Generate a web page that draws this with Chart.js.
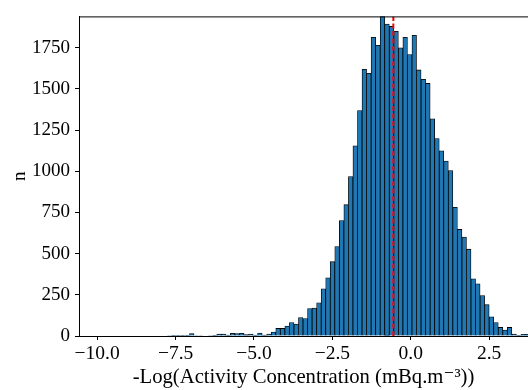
<!DOCTYPE html>
<html>
<head>
<meta charset="utf-8">
<script src="https://cdn.jsdelivr.net/npm/chart.js@4"></script>
<style>
  body { margin: 0; background: #fff; }
  #wrap { width: 528px; height: 390px; }
</style>
</head>
<body>
<div id="wrap"><canvas id="histChart" width="528" height="390"></canvas></div>
<script>
// histogram bins: 100 equal bins, left edge and width
const binStart = -10.386;
const binWidth = 0.1448;

// counts per bin (left to right)
const counts = [
    0, 0, 0, 0, 0, 0, 0, 0, 0, 0,
    0, 0, 0, 0, 0, 0, 0, 0, 3, 2,
    2, 2, 2, 14, 3, 3, 0, 3, 4, 12,
    12, 5, 16, 14, 16, 8, 12, 5, 18, 5,
    12, 24, 46, 46, 60, 82, 72, 112, 106, 166,
    170, 202, 287, 353, 451, 543, 701, 797, 968, 1154,
    1368, 1619, 1595, 1813, 1765, 1942, 1893, 1879, 1849, 1749,
    1813, 1709, 1825, 1615, 1558, 1533, 1318, 1198, 1124, 1062,
    1004, 781, 647, 601, 527, 347, 317, 246, 190, 116,
    82, 52, 36, 52, 12, 2, 10, 10, 4, 2
];

// vertical dashed marker (median)
const markerX = -0.555;

const xTicks = [-10, -7.5, -5, -2.5, 0, 2.5];
const yTicks = [0, 250, 500, 750, 1000, 1250, 1500, 1750];

const xRange = [-10.58, 3.74];
const yRange = [0, 1940];

const serif = "'Liberation Serif', 'DejaVu Serif', serif";

// bar points at bin centres
const histData = counts.map((c, i) => ({ x: binStart + (i + 0.5) * binWidth, y: c }));

// draw the top frame line (matplotlib spine)
const framePlugin = {
    id: 'frame',
    afterDraw(chart) {
        const { ctx, chartArea } = chart;
        ctx.save();
        ctx.strokeStyle = '#000';
        ctx.lineWidth = 1;
        ctx.beginPath();
        ctx.moveTo(chartArea.left, chartArea.top + 0.5);
        ctx.lineTo(chartArea.right, chartArea.top + 0.5);
        ctx.stroke();
        ctx.restore();
    }
};

new Chart(document.getElementById('histChart'), {
    type: 'bar',
    data: {
        datasets: [{
            type: 'line',
            data: [{ x: markerX, y: yRange[0] }, { x: markerX, y: yRange[1] }],
            borderColor: '#ff0000',
            borderWidth: 2,
            borderDash: [5, 2.5],
            pointRadius: 0,
            order: 0
        }, {
            data: histData,
            backgroundColor: '#1f77b4',
            borderColor: '#000000',
            borderWidth: 0.8,
            barPercentage: 1,
            categoryPercentage: 1,
            grouped: false,
            order: 1
        }]
    },
    options: {
        responsive: false,
        animation: false,
        layout: { padding: { top: 13, right: 0, left: 0, bottom: 0 } },
        plugins: {
            legend: { display: false },
            tooltip: { enabled: false }
        },
        scales: {
            x: {
                type: 'linear',
                offset: false,
                min: xRange[0],
                max: xRange[1],
                afterFit: function(scale) { scale.height = 54; },
                afterBuildTicks: function(scale) { scale.ticks = xTicks.map(v => ({ value: v })); },
                grid: { offset: false, drawOnChartArea: false, drawTicks: true, tickLength: 4, tickColor: '#000' },
                border: { display: true, color: '#000', width: 1 },
                ticks: {
                    color: '#000',
                    padding: 2,
                    maxRotation: 0,
                    font: { family: serif, size: 19.5 },
                    callback: v => v.toFixed(1).replace('-', '\u2212')
                },
                title: {
                    display: true,
                    text: '-Log(Activity Concentration (mBq.m\u207B\u00B3))',
                    color: '#000',
                    font: { family: serif, size: 20.7 },
                    padding: { top: 0, bottom: 0 }
                }
            },
            y: {
                min: yRange[0],
                max: yRange[1],
                afterFit: function(scale) { scale.width = 79; },
                afterBuildTicks: function(scale) { scale.ticks = yTicks.map(v => ({ value: v })); },
                grid: { drawOnChartArea: false, drawTicks: true, tickLength: 4, tickColor: '#000' },
                border: { display: true, color: '#000', width: 1 },
                ticks: {
                    color: '#000',
                    padding: 5,
                    font: { family: serif, size: 19 },
                    callback: v => String(v)
                },
                title: {
                    display: true,
                    text: 'n',
                    color: '#000',
                    font: { family: serif, size: 19 },
                    padding: { top: 9, bottom: 0 }
                }
            }
        }
    },
    plugins: [framePlugin]
});
</script>
</body>
</html>
